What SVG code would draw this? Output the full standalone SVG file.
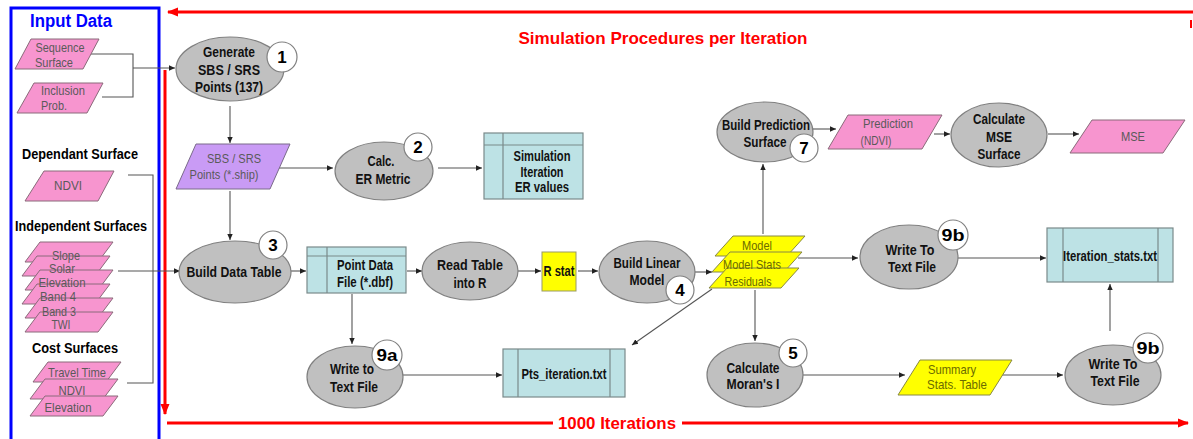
<svg xmlns="http://www.w3.org/2000/svg" width="1193" height="439" viewBox="0 0 1193 439">
<style>
text{font-family:"Liberation Sans",Arial,sans-serif;text-anchor:middle}
.n{font-weight:bold;font-size:14px;fill:#111}
.p{font-size:13.5px;fill:#5a5a5a}
.py{font-size:13.5px;fill:#6b6b00}
.h{font-weight:bold;font-size:14px;fill:#000}
.b{font-weight:bold;font-size:17px;fill:#000}
.red{font-weight:bold;font-size:17px;fill:#ff0000}
.el{fill:#c0c0c0;stroke:#808080;stroke-width:1.2}
.bd{fill:#fff;stroke:#808080;stroke-width:1.2}
.pk{fill:#f795cf;stroke:#8a6a7a;stroke-width:1}
.pu{fill:#c99bf5;stroke:#7a6a8a;stroke-width:1}
.ye{fill:#ffff00;stroke:#888844;stroke-width:1}
.tb{fill:#bde2e5;stroke:#7a8a8a;stroke-width:1.2}
.tl{stroke:#7a8a8a;stroke-width:1.2;fill:none}
.c{fill:none;stroke:#555;stroke-width:1.1}
.ca{fill:none;stroke:#555;stroke-width:1.1;marker-end:url(#ah)}
</style>
<defs>
<marker id="ah" markerWidth="7" markerHeight="7" refX="6" refY="3.5" orient="auto" markerUnits="userSpaceOnUse"><path d="M0,0.8 L6,3.5 L0,6.2 Z" fill="#222"/></marker>
<marker id="rh" markerWidth="12" markerHeight="12" refX="10" refY="6" orient="auto" markerUnits="userSpaceOnUse"><path d="M0,1.5 L11,6 L0,10.5 Z" fill="#ff0000"/></marker>
</defs>
<rect width="1193" height="439" fill="#fff"/>

<g id="input-data">
<rect x="11" y="8" width="148" height="440" fill="none" stroke="#0000ff" stroke-width="3"/>
<text x="71" y="27" class="b" style="fill:#0000ff;font-size:18px" textLength="82" lengthAdjust="spacingAndGlyphs">Input Data</text>
<text x="80" y="159" class="h" textLength="116" lengthAdjust="spacingAndGlyphs">Dependant Surface</text>
<text x="81" y="231" class="h" textLength="132" lengthAdjust="spacingAndGlyphs">Independent Surfaces</text>
<text x="75" y="353" class="h" textLength="86" lengthAdjust="spacingAndGlyphs">Cost Surfaces</text>
</g>

<g id="loop">
<line x1="1193" y1="12" x2="168" y2="12" stroke="#ff0000" stroke-width="3" marker-end="url(#rh)"/>
<line x1="1191" y1="20" x2="1191" y2="28" stroke="#ff0000" stroke-width="2"/>
<line x1="165" y1="70" x2="165" y2="414" stroke="#ff0000" stroke-width="3" marker-end="url(#rh)"/>
<line x1="167" y1="423" x2="553" y2="423" stroke="#ff0000" stroke-width="3"/>
<line x1="682" y1="423" x2="1188" y2="423" stroke="#ff0000" stroke-width="3" marker-end="url(#rh)"/>
<text x="617" y="429" class="red" textLength="118" lengthAdjust="spacingAndGlyphs">1000 Iterations</text>
<text x="663" y="44" class="red" textLength="289" lengthAdjust="spacingAndGlyphs">Simulation Procedures per Iteration</text>
</g>

<g id="connectors">
<path class="c" d="M90,54 H133 V97 H102"/>
<path class="ca" d="M133,68 H175"/>
<path class="c" d="M128,175 H153 V383 H127"/>
<path class="ca" d="M118,271 H180"/>
<path class="ca" d="M230,106 V143"/>
<path class="ca" d="M279,168 H333"/>
<path class="ca" d="M230,191 V240"/>
<path class="ca" d="M438,168 H482"/>
<path class="ca" d="M291,271 H306"/>
<path class="ca" d="M407,271 H422"/>
<path class="ca" d="M518,271 H541"/>
<path class="ca" d="M578,271 H598"/>
<path class="ca" d="M695,272 H712"/>
<path class="ca" d="M763,234 V164"/>
<path class="ca" d="M813,129 H836"/>
<path class="ca" d="M934,134 H950"/>
<path class="ca" d="M1048,134 H1079"/>
<path class="ca" d="M798,258 H858"/>
<path class="ca" d="M958,258 H1046"/>
<path class="ca" d="M755,290 V341"/>
<path class="ca" d="M712,289 L632,345"/>
<path class="ca" d="M352,294 V344"/>
<path class="ca" d="M403,375 H502"/>
<path class="ca" d="M803,375 H905"/>
<path class="ca" d="M990,375 H1063"/>
<path class="ca" d="M1110,331 V284"/>
</g>

<g id="sequence-surface">
<polygon class="pk" points="31,39 99,39 83,69 15,69"/>
<text x="60" y="52" class="p" textLength="49" lengthAdjust="spacingAndGlyphs">Sequence</text>
<text x="54" y="67" class="p" textLength="38" lengthAdjust="spacingAndGlyphs">Surface</text>
</g>
<g id="inclusion-prob">
<polygon class="pk" points="34,83 103,83 87,113 17,113"/>
<text x="63" y="95" class="p" textLength="44" lengthAdjust="spacingAndGlyphs">Inclusion</text>
<text x="54" y="110" class="p" textLength="26" lengthAdjust="spacingAndGlyphs">Prob.</text>
</g>
<g id="ndvi-dependant">
<polygon class="pk" points="44,171 114,171 98,201 25,201"/>
<text x="68" y="190" class="p" textLength="28" lengthAdjust="spacingAndGlyphs">NDVI</text>
</g>
<g id="independent-surfaces">
<polygon class="pk" points="40,242 113,242 98,262 25,262"/>
<polygon class="pk" points="37,256 110,256 95,276 22,276"/>
<polygon class="pk" points="40,270 113,270 98,290 25,290"/>
<polygon class="pk" points="37,284 110,284 95,304 22,304"/>
<polygon class="pk" points="40,298 113,298 98,318 25,318"/>
<polygon class="pk" points="40,312 113,312 98,332 25,332"/>
<text x="66" y="259.5" class="p" textLength="28" lengthAdjust="spacingAndGlyphs">Slope</text>
<text x="62" y="273" class="p" textLength="26" lengthAdjust="spacingAndGlyphs">Solar</text>
<text x="62" y="287" class="p" textLength="47" lengthAdjust="spacingAndGlyphs">Elevation</text>
<text x="58" y="301" class="p" textLength="36" lengthAdjust="spacingAndGlyphs">Band 4</text>
<text x="59" y="315.5" class="p" textLength="34" lengthAdjust="spacingAndGlyphs">Band 3</text>
<text x="61" y="329" class="p" textLength="19" lengthAdjust="spacingAndGlyphs">TWI</text>
</g>
<g id="cost-surfaces">
<polygon class="pk" points="48,362 121,362 106,382 33,382"/>
<polygon class="pk" points="45,379 118,379 103,399 30,399"/>
<polygon class="pk" points="45,396 118,396 103,416 30,416"/>
<text x="77" y="377" class="p" textLength="58" lengthAdjust="spacingAndGlyphs">Travel Time</text>
<text x="72" y="395" class="p" textLength="27" lengthAdjust="spacingAndGlyphs">NDVI</text>
<text x="68" y="412" class="p" textLength="47" lengthAdjust="spacingAndGlyphs">Elevation</text>
</g>

<g id="n1">
<ellipse class="el" cx="230" cy="69" rx="54" ry="32"/>
<text x="229" y="57" class="n" textLength="52" lengthAdjust="spacingAndGlyphs">Generate</text>
<text x="229" y="75" class="n" textLength="62" lengthAdjust="spacingAndGlyphs">SBS / SRS</text>
<text x="229" y="92" class="n" textLength="68" lengthAdjust="spacingAndGlyphs">Points (137)</text>
<circle class="bd" cx="282" cy="57" r="15"/>
<text x="282" y="63" class="b">1</text>
</g>
<g id="sbs-points">
<polygon class="pu" points="196,144 290,144 270,189 176,189"/>
<text x="234" y="163" class="p" textLength="54" lengthAdjust="spacingAndGlyphs">SBS / SRS</text>
<text x="224" y="179" class="p" textLength="69" lengthAdjust="spacingAndGlyphs">Points (*.ship)</text>
</g>
<g id="n2">
<ellipse class="el" cx="384" cy="171" rx="49" ry="29"/>
<text x="381" y="166" class="n" textLength="27" lengthAdjust="spacingAndGlyphs">Calc.</text>
<text x="383" y="184" class="n" textLength="55" lengthAdjust="spacingAndGlyphs">ER Metric</text>
<circle class="bd" cx="418" cy="147" r="14"/>
<text x="418" y="153" class="b">2</text>
</g>
<g id="er-table">
<rect class="tb" x="484" y="133" width="99" height="66"/>
<path class="tl" d="M484,145 H583 M503,133 V199"/>
<text x="542" y="161" class="n" textLength="57" lengthAdjust="spacingAndGlyphs">Simulation</text>
<text x="542" y="177" class="n" textLength="43" lengthAdjust="spacingAndGlyphs">Iteration</text>
<text x="542" y="192" class="n" textLength="54" lengthAdjust="spacingAndGlyphs">ER values</text>
</g>
<g id="n3">
<ellipse class="el" cx="235" cy="272" rx="56" ry="31"/>
<text x="234" y="277" class="n" textLength="95" lengthAdjust="spacingAndGlyphs">Build Data Table</text>
<circle class="bd" cx="273" cy="245" r="14"/>
<text x="273" y="251" class="b">3</text>
</g>
<g id="point-table">
<rect class="tb" x="307" y="247" width="99" height="46"/>
<path class="tl" d="M307,256 H406 M327,247 V293"/>
<text x="365" y="270" class="n" textLength="56" lengthAdjust="spacingAndGlyphs">Point Data</text>
<text x="365" y="287" class="n" textLength="56" lengthAdjust="spacingAndGlyphs">File (*.dbf)</text>
</g>
<g id="read-table">
<ellipse class="el" cx="470" cy="271" rx="48" ry="29"/>
<text x="470" y="270" class="n" textLength="66" lengthAdjust="spacingAndGlyphs">Read Table</text>
<text x="470" y="288" class="n" textLength="33" lengthAdjust="spacingAndGlyphs">into R</text>
</g>
<g id="r-stat">
<rect x="542" y="252" width="34" height="39" fill="#ffff00" stroke="#999966" stroke-width="1"/>
<text x="559" y="276" class="n" textLength="31" lengthAdjust="spacingAndGlyphs">R stat</text>
</g>
<g id="n4">
<ellipse class="el" cx="647" cy="272" rx="48" ry="31"/>
<text x="647" y="268" class="n" textLength="67" lengthAdjust="spacingAndGlyphs">Build Linear</text>
<text x="647" y="285" class="n" textLength="35" lengthAdjust="spacingAndGlyphs">Model</text>
<circle class="bd" cx="680" cy="290" r="14"/>
<text x="680" y="296" class="b">4</text>
</g>
<g id="model-stack">
<polygon class="ye" points="733,236 805,236 787,256 715,256"/>
<polygon class="ye" points="730,252 802,252 784,272 712,272"/>
<polygon class="ye" points="727,268 799,268 781,288 709,288"/>
<text x="757" y="250" class="py" textLength="30" lengthAdjust="spacingAndGlyphs">Model</text>
<text x="752" y="269" class="py" textLength="58" lengthAdjust="spacingAndGlyphs">Model Stats</text>
<text x="748" y="286" class="py" textLength="47" lengthAdjust="spacingAndGlyphs">Residuals</text>
</g>
<g id="n7">
<ellipse class="el" cx="765" cy="132" rx="48" ry="30"/>
<text x="766" y="130" class="n" textLength="88" lengthAdjust="spacingAndGlyphs">Build Prediction</text>
<text x="765" y="147" class="n" textLength="43" lengthAdjust="spacingAndGlyphs">Surface</text>
<circle class="bd" cx="804" cy="148" r="14"/>
<text x="804" y="154" class="b">7</text>
</g>
<g id="prediction">
<polygon class="pk" points="848,115 942,115 922,149 828,149"/>
<text x="888" y="128" class="p" textLength="50" lengthAdjust="spacingAndGlyphs">Prediction</text>
<text x="876" y="145" class="p" textLength="31" lengthAdjust="spacingAndGlyphs">(NDVI)</text>
</g>
<g id="calc-mse">
<ellipse class="el" cx="999" cy="135" rx="48" ry="32"/>
<text x="999" y="124" class="n" textLength="52" lengthAdjust="spacingAndGlyphs">Calculate</text>
<text x="999" y="142" class="n" textLength="26" lengthAdjust="spacingAndGlyphs">MSE</text>
<text x="999" y="159" class="n" textLength="43" lengthAdjust="spacingAndGlyphs">Surface</text>
</g>
<g id="mse">
<polygon class="pk" points="1092,120 1185,120 1163,153 1070,153"/>
<text x="1133" y="141" class="p" textLength="24" lengthAdjust="spacingAndGlyphs">MSE</text>
</g>
<g id="n9b-upper">
<ellipse class="el" cx="909" cy="257" rx="49" ry="32"/>
<text x="910" y="255" class="n" textLength="49" lengthAdjust="spacingAndGlyphs">Write To</text>
<text x="912" y="272" class="n" textLength="48" lengthAdjust="spacingAndGlyphs">Text File</text>
<circle class="bd" cx="953" cy="235" r="15"/>
<text x="953" y="241" class="b" textLength="23" lengthAdjust="spacingAndGlyphs">9b</text>
</g>
<g id="iteration-stats">
<rect class="tb" x="1047" y="228" width="126" height="54"/>
<path class="tl" d="M1063,228 V282 M1158,228 V282"/>
<text x="1110" y="261" class="n" textLength="94" lengthAdjust="spacingAndGlyphs">Iteration_stats.txt</text>
</g>
<g id="n5">
<ellipse class="el" cx="755" cy="375" rx="48" ry="32"/>
<text x="753" y="373" class="n" textLength="53" lengthAdjust="spacingAndGlyphs">Calculate</text>
<text x="753" y="389" class="n" textLength="53" lengthAdjust="spacingAndGlyphs">Moran's I</text>
<circle class="bd" cx="793" cy="353" r="14"/>
<text x="793" y="359" class="b">5</text>
</g>
<g id="summary">
<polygon class="ye" points="920,360 1012,360 990,395 898,395"/>
<text x="952" y="374" class="py" textLength="48" lengthAdjust="spacingAndGlyphs">Summary</text>
<text x="957" y="389" class="py" textLength="60" lengthAdjust="spacingAndGlyphs">Stats. Table</text>
</g>
<g id="n9b-lower">
<ellipse class="el" cx="1113" cy="375" rx="48" ry="30"/>
<text x="1113" y="369" class="n" textLength="49" lengthAdjust="spacingAndGlyphs">Write To</text>
<text x="1115" y="386" class="n" textLength="49" lengthAdjust="spacingAndGlyphs">Text File</text>
<circle class="bd" cx="1148" cy="348" r="15"/>
<text x="1148" y="354" class="b" textLength="23" lengthAdjust="spacingAndGlyphs">9b</text>
</g>
<g id="n9a">
<ellipse class="el" cx="355" cy="377" rx="48" ry="31"/>
<text x="352" y="374" class="n" textLength="44" lengthAdjust="spacingAndGlyphs">Write to</text>
<text x="354" y="392" class="n" textLength="48" lengthAdjust="spacingAndGlyphs">Text File</text>
<circle class="bd" cx="387" cy="355" r="15"/>
<text x="387" y="361" class="b" textLength="21" lengthAdjust="spacingAndGlyphs">9a</text>
</g>
<g id="pts-iteration">
<rect class="tb" x="503" y="349" width="122" height="48"/>
<path class="tl" d="M518,349 V397 M610,349 V397"/>
<text x="564" y="379" class="n" textLength="85" lengthAdjust="spacingAndGlyphs">Pts_iteration.txt</text>
</g>
</svg>
